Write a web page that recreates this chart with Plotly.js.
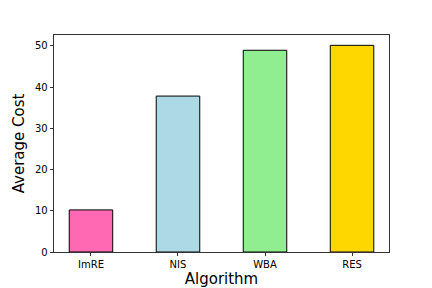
<!DOCTYPE html>
<html>
<head>
<meta charset="utf-8">
<script src="https://cdn.plot.ly/plotly-3.0.1.min.js"></script>
<style>html,body{margin:0;padding:0;background:#fff;}#chart{width:432px;height:288px;}</style>
</head>
<body>
<div id="chart"></div>
<script>
const categories = ["ImRE", "NIS", "WBA", "RES"];
const avgCost = [10.2, 37.8, 48.9, 50.1];
const barColors = ["#ff69b4", "#add8e6", "#90ee90", "#ffd700"];
const yTicks = [0, 10, 20, 30, 40, 50];

const trace = {
  type: "bar",
  x: categories.map((c, i) => i),
  y: avgCost,
  width: 0.5,
  marker: {color: barColors, line: {color: "#000", width: 1}},
  hoverinfo: "none"
};
const ymax = Math.max(...avgCost) * 1.05;
const layout = {
  width: 432, height: 288,
  margin: {l: 54, r: 43, t: 35, b: 36},
  paper_bgcolor: "#fff", plot_bgcolor: "#fff",
  font: {family: "DejaVu Sans", color: "#000", size: 10},
  showlegend: false,
  xaxis: {
    range: [-0.425, 3.425],
    tickvals: categories.map((c, i) => i),
    ticktext: categories,
    ticks: "outside", ticklen: 3.5, tickwidth: 0.8, tickcolor: "#000",
    showgrid: false, zeroline: false,
    showline: true, linecolor: "#000", linewidth: 0.8, mirror: true,
    tickfont: {size: 10},
    title: {text: "Algorithm", font: {size: 15}, standoff: 4}
  },
  yaxis: {
    range: [0, ymax],
    tickvals: yTicks,
    ticks: "outside", ticklen: 3.5, tickwidth: 0.8, tickcolor: "#000",
    showgrid: false, zeroline: false,
    showline: true, linecolor: "#000", linewidth: 0.8, mirror: true,
    tickfont: {size: 10},
    title: {text: "Average Cost", font: {size: 15}, standoff: 6}
  }
};
Plotly.newPlot("chart", [trace], layout, {staticPlot: true, displayModeBar: false});
</script>
</body>
</html>
